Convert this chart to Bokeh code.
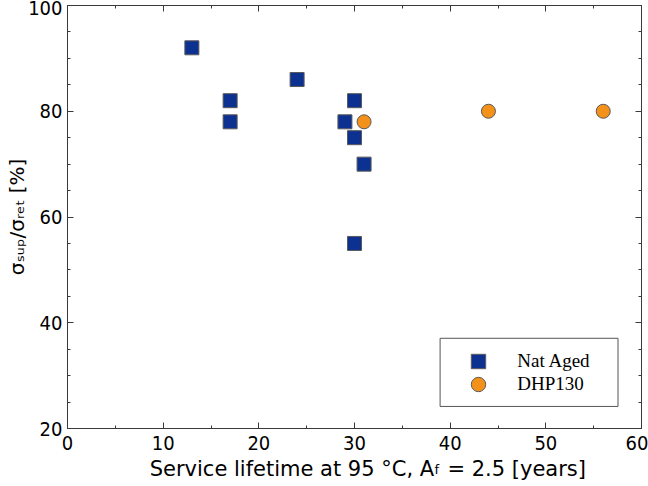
from bokeh.plotting import figure
from bokeh.models import (LinearAxis, Range1d, Legend, LegendItem, Label,
                          BoxAnnotation, SingleIntervalTicker,
                          CustomJSTickFormatter)
from bokeh.embed import file_html
from bokeh.resources import INLINE

# ---- data ----
nat_aged_x = [13, 17, 17, 24, 29, 30, 30, 30, 31]
nat_aged_y = [92, 82, 78, 86, 78, 82, 75, 55, 70]
dhp130_x = [31, 44, 56]
dhp130_y = [78, 80, 80]
series_names = ["Nat Aged", "DHP130"]

# axis titles (Unicode subscripts; the subscript f of A_f is a separate label)
NB = "\u00a0"
x_title = NB * 4 + "Service lifetime at 95 °C, A" + NB * 2 + "= 2.5 [years]"
x_title_sub = "f"
y_title = "σₛᵤₚ/σᵣₑₜ [%]"

TICK_FONT = "DejaVu Sans Condensed"
TITLE_FONT = "DejaVu Sans"
FRAME = "#3a3a3a"

# frame geometry (pixels) used to place annotations
FL, FR, FT, FB = 66.7, 641.0, 5.5, 427.5
X0, X1, Y0, Y1 = 0, 60, 20, 100


def px2x(px):
    return X0 + (px - FL) * (X1 - X0) / (FR - FL)


def py2y(py):
    return Y0 + (FB - py) * (Y1 - Y0) / (FB - FT)


p = figure(width=648, height=486, output_backend="svg", toolbar_location=None,
           x_range=Range1d(X0, X1), y_range=Range1d(Y0, Y1),
           min_border_left=67, min_border_right=7, min_border_top=5,
           min_border_bottom=58)
p.grid.visible = False
p.outline_line_color = FRAME
p.outline_line_width = 1
p.background_fill_color = "white"
p.border_fill_color = "white"


def style_axis(ax, labels=True):
    ax.axis_line_color = FRAME
    ax.major_tick_line_color = FRAME
    ax.minor_tick_line_color = FRAME
    ax.major_tick_in = 6
    ax.major_tick_out = 0
    ax.minor_tick_in = 3
    ax.minor_tick_out = 0
    ax.major_label_text_font = TICK_FONT
    ax.major_label_text_color = "black"
    ax.axis_label_text_font = TITLE_FONT
    ax.axis_label_text_font_style = "normal"
    ax.axis_label_text_color = "black"
    ax.axis_label_text_font_size = "21px"
    if labels:
        ax.major_label_text_font_size = "20px"
    else:
        ax.formatter = CustomJSTickFormatter(code="return ''")
        ax.major_label_text_font_size = "0px"
        ax.major_label_standoff = 0


p.xaxis.ticker = SingleIntervalTicker(interval=10, num_minor_ticks=2)
p.yaxis.ticker = SingleIntervalTicker(interval=20, num_minor_ticks=4)
style_axis(p.xaxis[0])
style_axis(p.yaxis[0])
p.xaxis.major_label_standoff = 7
p.yaxis.major_label_standoff = 5
p.xaxis.axis_label = x_title
p.xaxis.axis_label_standoff = 4
p.yaxis.axis_label = y_title
p.yaxis.axis_label_text_font_size = "20px"
p.yaxis.axis_label_standoff = -4

top = LinearAxis(ticker=SingleIntervalTicker(interval=10, num_minor_ticks=2))
right = LinearAxis(ticker=SingleIntervalTicker(interval=20, num_minor_ticks=4))
style_axis(top, labels=False)
style_axis(right, labels=False)
p.add_layout(top, "above")
p.add_layout(right, "right")

r1 = p.scatter(nat_aged_x, nat_aged_y, marker="square", size=14,
               fill_color="#0c3190", line_color="#5a5a5a", line_width=1)
r2 = p.scatter(dhp130_x, dhp130_y, marker="circle", size=14,
               fill_color="#f4911b", line_color="#5a5a5a", line_width=1)

# legend frame
box = BoxAnnotation(left=px2x(439.5), right=px2x(617.5),
                    top=py2y(337.5), bottom=py2y(405.5),
                    fill_alpha=0, line_color="#555555", line_width=1,
                    line_alpha=1, level="overlay")
p.add_layout(box)

# one legend per entry so the rows sit at the reference spacing
for r, name, cy in [(r1, series_names[0], 360), (r2, series_names[1], 383)]:
    lg = Legend(items=[LegendItem(label=name, renderers=[r])],
                location=(478 - FL - 18, FB - cy - 18), orientation="vertical",
                glyph_width=36, glyph_height=36, padding=0, margin=0,
                label_standoff=21, border_line_alpha=0,
                background_fill_alpha=0,
                label_text_font="Liberation Serif",
                label_text_font_size="19px", label_text_color="black")
    p.add_layout(lg)

# subscript f of A_f (in a side panel so it is not clipped by the frame)
p.add_layout(Label(x=px2x(434.0), y=py2y(468.0), text=x_title_sub,
                   text_font=TITLE_FONT, text_font_size="13px",
                   text_color="black", text_baseline="alphabetic"), "right")

open("out.html", "w").write(file_html(p, INLINE))
